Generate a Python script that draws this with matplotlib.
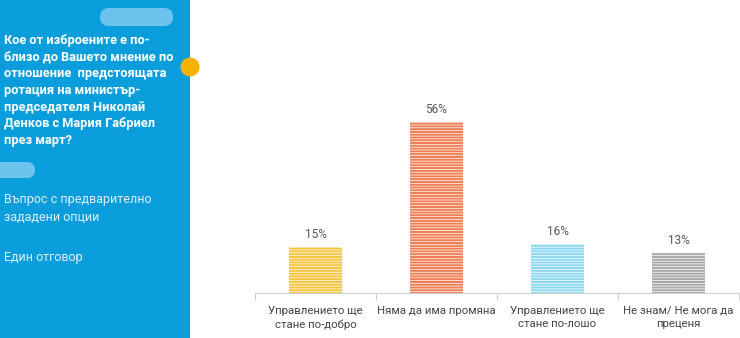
import matplotlib
matplotlib.use("Agg")
import matplotlib.pyplot as plt
from matplotlib.patches import FancyBboxPatch, Rectangle, Circle

categories = ["Управлението ще\nстане по-добро", "Няма да има промяна",
              "Управлението ще\nстане по-лошо", "Не знам/ Не мога да\nпреценя"]
values = [15, 56, 16, 13]
value_labels = ["15%", "56%", "16%", "13%"]
colors = ["#F6C53E", "#F07F55", "#8FD8F2", "#A9A9A9"]

question = ("Кое от изброените е по-\nблизо до Вашето мнение по\nотношение  предстоящата\n"
            "ротация на министър-\nпредседателя Николай\nДенков с Мария Габриел\nпрез март?")
note1 = "Въпрос с предварително\nзададени опции"
note2 = "Един отговор"

W, H = 740, 338
fig = plt.figure(figsize=(W / 100, H / 100), dpi=100)
fig.patch.set_facecolor("white")

# decoration layer in pixel coordinates
bg = fig.add_axes([0, 0, 1, 1])
bg.set_xlim(0, W)
bg.set_ylim(H, 0)
bg.axis("off")
bg.add_patch(Rectangle((0, 0), 190, H, facecolor="#0A9DDC", edgecolor="none"))
bg.add_patch(FancyBboxPatch((100, 8), 73, 18, boxstyle="round,pad=0,rounding_size=9",
                            facecolor="#6CC4EE", edgecolor="none"))
bg.add_patch(FancyBboxPatch((-20, 162), 55, 16, boxstyle="round,pad=0,rounding_size=8",
                            facecolor="#6CC4EE", edgecolor="none"))
bg.add_patch(Circle((190, 67), 9.5, facecolor="#F7B200", edgecolor="none", zorder=3))

bg.text(4, 34, question, ha="left", va="top", color="white",
        fontfamily="Roboto", fontweight="bold", fontsize=9.2, linespacing=1.37)
bg.text(4, 193, note1, ha="left", va="top", color="#DDF0FA",
        fontfamily="Roboto", fontsize=9, linespacing=1.5)
bg.text(4, 251, note2, ha="left", va="top", color="#DDF0FA",
        fontfamily="Roboto", fontsize=9)

# bar chart
plt.rcParams["hatch.linewidth"] = 1.5
ax = fig.add_axes([255 / W, 45.5 / H, (739 - 255) / W, 1 - 45.5 / H])
ax.set_facecolor("none")
x = list(range(len(categories)))
for i, (v, c) in enumerate(zip(values, colors)):
    ax.bar(i, v, width=0.44, facecolor="white", edgecolor=c, linewidth=0,
           hatch="------")
    ax.text(i, v + 1.9, value_labels[i], ha="center", va="bottom", color="#555555",
            fontfamily="Roboto", fontsize=8.5)

ax.set_xlim(-0.5, 3.5)
ax.set_ylim(0, 96.2)
for s in ["top", "right", "left"]:
    ax.spines[s].set_visible(False)
ax.spines["bottom"].set_color("#D0D0D0")
ax.spines["bottom"].set_linewidth(0.8)
ax.set_yticks([])
ax.set_xticks([-0.5, 0.5, 1.5, 2.5, 3.5])
ax.set_xticklabels([])
ax.tick_params(axis="x", length=5, color="#D0D0D0", width=0.8)
ax.set_xticks(x, minor=True)
ax.set_xticklabels(categories, minor=True, fontfamily="Roboto", fontsize=8.2,
                   color="#444444", linespacing=1.45)
ax.tick_params(axis="x", which="minor", length=0, pad=9.5)

fig.savefig("out.png", dpi=100)
